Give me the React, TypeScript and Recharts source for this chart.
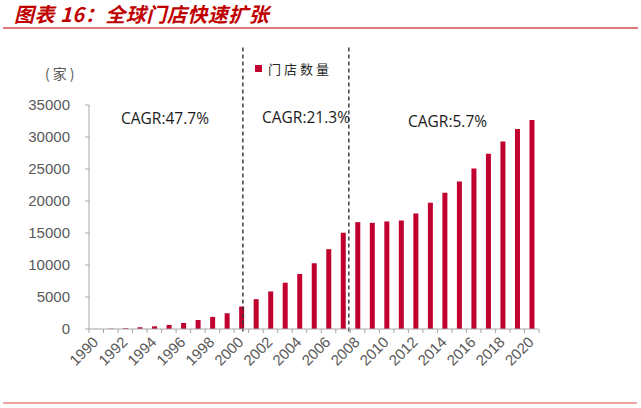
import { Bar, BarChart, ReferenceLine, XAxis, YAxis } from "recharts";

const years = [
  "1990", "1991", "1992", "1993", "1994", "1995", "1996", "1997", "1998", "1999",
  "2000", "2001", "2002", "2003", "2004", "2005", "2006", "2007", "2008", "2009",
  "2010", "2011", "2012", "2013", "2014", "2015", "2016", "2017", "2018", "2019",
  "2020",
];
const stores = [
  10, 60, 120, 270, 420, 630, 940, 1410, 1890, 2460,
  3510, 4660, 5870, 7230, 8600, 10270, 12470, 15040, 16700, 16590,
  16800, 16950, 18050, 19730, 21300, 23030, 25070, 27370, 29300, 31240,
  32650,
];
const yTicks = [0, 5000, 10000, 15000, 20000, 25000, 30000, 35000];
// period boundaries on a continuous year scale
const dividers = [2000.1, 2007.4];
const dividerSpan = [-380, 44200];
const cagrLabels = ["CAGR:47.7%", "CAGR:21.3%", "CAGR:5.7%"];
const seriesName = "门店数量";
const title = "图表 16：全球门店快速扩张";
const unit = "(家)";

const data = years.map((year, i) => ({ year, yearNum: Number(year), stores: stores[i] }));

const W = 641;
const H = 408;
const MARGIN = { top: 105, right: 102, bottom: 0, left: 0 };
const Y_W = 89;
const X_H = 79;
const PLOT_W = W - MARGIN.left - MARGIN.right - Y_W;
const HALF_BAND = PLOT_W / years.length / 2;

const RED = "#C0002F";
const GREY = "#A6A6A6";
const TEXT_GREY = "#595959";

const cagrPos = [
  { left: 121, top: 107 },
  { left: 262, top: 106 },
  { left: 408, top: 110 },
];

function XTick(props: any) {
  const { x, y, payload, index } = props;
  const last = index === years.length - 1;
  return (
    <g>
      <line x1={x - HALF_BAND} y1={y} x2={x - HALF_BAND} y2={y + 4} stroke={GREY} />
      {last && <line x1={x + HALF_BAND} y1={y} x2={x + HALF_BAND} y2={y + 4} stroke={GREY} />}
      {index % 2 === 0 && (
        <text
          x={x + 3}
          y={y + 14}
          transform={`rotate(-45 ${x + 3} ${y + 14})`}
          textAnchor="end"
          fill={TEXT_GREY}
          fontSize={15}
          fontFamily="'Liberation Sans', Arial, sans-serif"
        >
          {payload.value}
        </text>
      )}
    </g>
  );
}

export default function App() {
  return (
    <div
      style={{
        position: "absolute",
        left: 0,
        top: 0,
        width: W,
        height: H,
        background: "#fff",
        fontFamily: "'Noto Sans CJK SC', sans-serif",
      }}
    >
      <div
        style={{
          position: "absolute",
          left: 14,
          top: 1,
          fontSize: 20,
          lineHeight: "26px",
          fontWeight: 700,
          fontStyle: "italic",
          color: "#C00000",
          letterSpacing: 0.5,
          whiteSpace: "nowrap",
        }}
      >
        {title}
      </div>
      <div style={{ position: "absolute", left: 3, top: 27, width: 635, height: 2, background: "#E07A7A" }} />
      <div style={{ position: "absolute", left: 3, top: 402, width: 634, height: 2, background: "#EBA3A3" }} />

      <BarChart width={W} height={H} data={data} margin={MARGIN}>
        <XAxis
          dataKey="year"
          interval={0}
          tickLine={false}
          tickSize={0}
          tickMargin={0}
          height={X_H}
          axisLine={{ stroke: GREY }}
          tick={<XTick />}
        />
        <XAxis
          xAxisId="pos"
          dataKey="yearNum"
          type="number"
          domain={[1989.5, 2020.5]}
          allowDataOverflow
          height={0}
          hide
        />
        <YAxis
          width={Y_W}
          domain={[0, 35000]}
          ticks={yTicks}
          interval={0}
          tickSize={4}
          tickMargin={15}
          axisLine={{ stroke: GREY }}
          tickLine={{ stroke: GREY }}
          tick={{ fill: TEXT_GREY, fontSize: 15, fontFamily: "'Liberation Sans', Arial, sans-serif" }}
        />
        <Bar dataKey="stores" name={seriesName} fill={RED} barSize={5} isAnimationActive={false} />
        {dividers.map((d) => (
          <ReferenceLine
            key={d}
            xAxisId="pos"
            segment={[
              { x: d, y: dividerSpan[0] },
              { x: d, y: dividerSpan[1] },
            ]}
            ifOverflow="visible"
            stroke="#333333"
            strokeWidth={1.4}
            strokeDasharray="4 3"
          />
        ))}
      </BarChart>

      <div
        style={{
          position: "absolute",
          left: 45,
          top: 63,
          fontSize: 14,
          color: TEXT_GREY,
          letterSpacing: 3,
          whiteSpace: "nowrap",
        }}
      >
        {unit}
      </div>

      <div style={{ position: "absolute", left: 255, top: 65, width: 7, height: 7, background: RED }} />
      <div
        style={{
          position: "absolute",
          left: 268,
          top: 59,
          fontSize: 13,
          lineHeight: "20px",
          letterSpacing: 3,
          color: "#262626",
          whiteSpace: "nowrap",
        }}
      >
        {seriesName}
      </div>

      {cagrLabels.map((t, i) => (
        <div
          key={t}
          style={{
            position: "absolute",
            left: cagrPos[i].left,
            top: cagrPos[i].top,
            fontSize: 15.5,
            lineHeight: "22px",
            fontFamily: "'Open Sans', sans-serif",
            color: "#1a1a1a",
            whiteSpace: "nowrap",
          }}
        >
          {t}
        </div>
      ))}
    </div>
  );
}
